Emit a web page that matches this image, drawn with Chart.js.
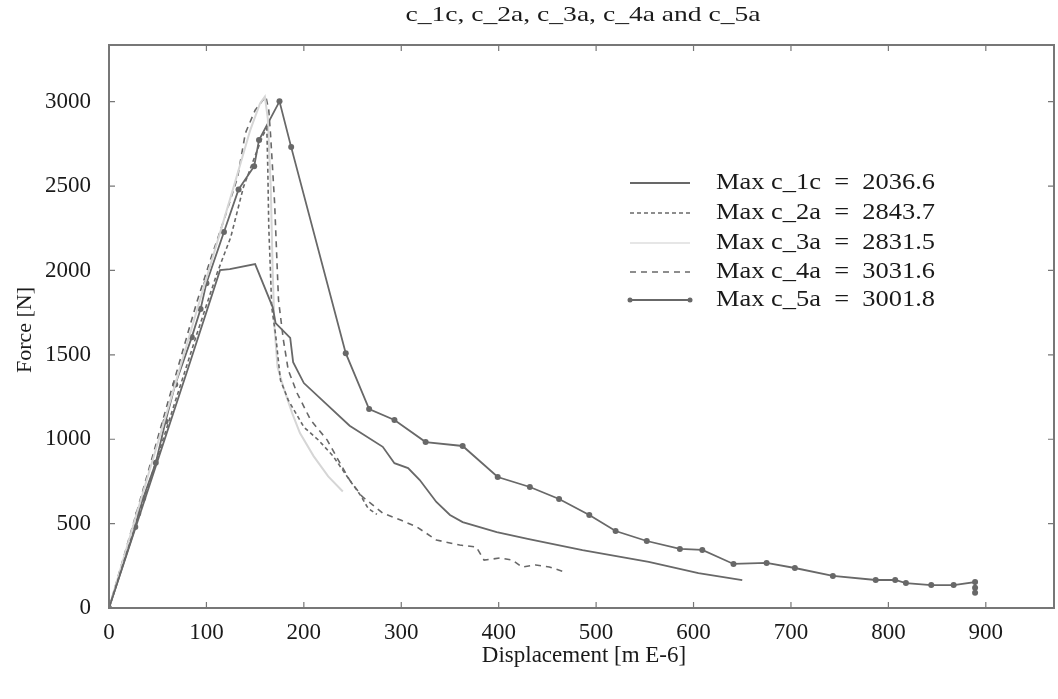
<!DOCTYPE html>
<html>
<head>
<meta charset="utf-8">
<script src="https://cdn.jsdelivr.net/npm/chart.js@4.4.1/dist/chart.umd.min.js"></script>
<style>
  html, body { margin: 0; padding: 0; background: #ffffff; }
  #wrap { width: 1058px; height: 699px; }
</style>
</head>
<body>
<div id="wrap"><canvas id="c" width="1058" height="699"></canvas></div>
<script>
// ---- data (displacement in m E-6, force in N) ----
const titleText = "c_1c, c_2a, c_3a, c_4a and c_5a";
const xTitle = "Displacement [m E-6]";
const yTitle = "Force [N]";
const seriesNames = ["c_1c", "c_2a", "c_3a", "c_4a", "c_5a"];
const maxValues = ["2036.6", "2843.7", "2831.5", "3031.6", "3001.8"];
const xTickValues = [0, 100, 200, 300, 400, 500, 600, 700, 800, 900];
const yTickValues = [0, 500, 1000, 1500, 2000, 2500, 3000];

const c1cX = [0, 40, 80, 114, 124, 150, 168, 171, 186, 189, 200, 247, 281, 293, 307, 319, 336, 350, 363, 398, 431, 486, 554, 605, 650];
const c1cY = [0, 700, 1400, 2002, 2008, 2038, 1783, 1688, 1600, 1457, 1333, 1080, 955, 858, 829, 758, 628, 551, 509, 450, 408, 343, 273, 207, 165];

const c2aX = [0, 30, 60, 90, 111, 125, 138, 150, 158, 162, 163, 164, 166, 167, 171, 176, 184, 200, 215, 230, 247, 258, 266, 275];
const c2aY = [0, 540, 1080, 1620, 1985, 2198, 2494, 2680, 2800, 2843, 2600, 2257, 1950, 1783, 1620, 1350, 1232, 1072, 995, 900, 758, 669, 590, 555];

const c3aX = [0, 30, 60, 90, 127, 145, 155, 160, 163, 166, 168, 170, 173, 179, 188, 196, 210, 225, 240];
const c3aY = [0, 590, 1170, 1760, 2476, 2832, 2990, 3030, 2900, 2500, 2000, 1650, 1428, 1309, 1155, 1037, 900, 780, 690];

const c4aX = [0, 30, 60, 90, 104, 118, 132, 140, 150, 161, 164, 166, 170, 174, 179, 184, 193, 207, 224, 236, 247, 260, 281, 300, 316, 336, 360, 377, 385, 401, 414, 424, 438, 452, 468];
const c4aY = [0, 600, 1210, 1810, 2062, 2299, 2553, 2814, 2950, 3031, 2950, 2790, 2400, 1825, 1588, 1410, 1274, 1114, 995, 870, 758, 660, 562, 520, 480, 403, 373, 361, 284, 296, 284, 243, 255, 243, 213];

const c5aX = [0, 27, 30, 35, 48, 58, 68, 85, 94, 100, 118, 133, 149, 154, 175, 187, 243, 267, 293, 325, 363, 399, 432, 462, 493, 520, 552, 586, 609, 641, 675, 704, 743, 787, 807, 818, 844, 867, 889, 889, 889];
const c5aY = [0, 480, 560, 650, 860, 1105, 1325, 1605, 1771, 1925, 2228, 2480, 2618, 2773, 3002, 2731, 1510, 1179, 1114, 983, 960, 776, 717, 646, 551, 456, 397, 350, 344, 261, 267, 237, 190, 166, 166, 148, 136, 136, 154, 120, 90];

// ---- styling ----
const lineGrey = "#686868";
const lightGrey = "#d6d6d6";
const textColor = "#1a1a1a";
const serif = "'Liberation Serif', 'DejaVu Serif', serif";

function pts(xs, ys) { return xs.map((x, i) => ({ x: x, y: ys[i] })); }

const datasets = [
  { label: "c_1c", data: pts(c1cX, c1cY), borderColor: lineGrey, borderWidth: 1.8, pointRadius: 0, borderDash: [] },
  { label: "c_2a", data: pts(c2aX, c2aY), borderColor: lineGrey, borderWidth: 1.6, pointRadius: 0, borderDash: [4, 3] },
  { label: "c_3a", data: pts(c3aX, c3aY), borderColor: lightGrey, borderWidth: 2, pointRadius: 0, borderDash: [] },
  { label: "c_4a", data: pts(c4aX, c4aY), borderColor: lineGrey, borderWidth: 1.6, pointRadius: 0, borderDash: [6, 5] },
  { label: "c_5a", data: pts(c5aX, c5aY), borderColor: lineGrey, backgroundColor: lineGrey, borderWidth: 1.8, pointRadius: 3, pointBorderWidth: 0, borderDash: [] }
];

const legendStyles = [
  { color: lineGrey, dash: [], marker: false, width: 1.8 },
  { color: lineGrey, dash: [4, 3], marker: false, width: 1.6 },
  { color: "#e6e6e6", dash: [], marker: false, width: 2 },
  { color: lineGrey, dash: [6, 5], marker: false, width: 1.6 },
  { color: lineGrey, dash: [], marker: true, width: 1.8 }
];

// draw text stretched horizontally to a target width
function wideText(ctx, txt, x, y, width, align) {
  const w = ctx.measureText(txt).width;
  const sx = width / w;
  ctx.save();
  ctx.translate(x, y);
  ctx.scale(sx, 1);
  ctx.textAlign = align;
  ctx.fillText(txt, 0, 0);
  ctx.restore();
}

const decor = {
  id: "decor",
  afterDraw(chart) {
    const ctx = chart.ctx;
    const a = chart.chartArea;
    const xs = chart.scales.x, ys = chart.scales.y;
    ctx.save();
    // frame
    ctx.strokeStyle = "#777777";
    ctx.lineWidth = 2;
    ctx.setLineDash([]);
    ctx.strokeRect(a.left, a.top, a.right - a.left, a.bottom - a.top);
    // inward ticks
    ctx.lineWidth = 1.2;
    const tl = 6;
    xTickValues.forEach(v => {
      const p = xs.getPixelForValue(v);
      ctx.beginPath();
      ctx.moveTo(p, a.bottom); ctx.lineTo(p, a.bottom - tl);
      ctx.moveTo(p, a.top); ctx.lineTo(p, a.top + tl);
      ctx.stroke();
    });
    yTickValues.forEach(v => {
      const p = ys.getPixelForValue(v);
      ctx.beginPath();
      ctx.moveTo(a.left, p); ctx.lineTo(a.left + tl, p);
      ctx.moveTo(a.right, p); ctx.lineTo(a.right - tl, p);
      ctx.stroke();
    });
    // titles
    ctx.fillStyle = textColor;
    ctx.textBaseline = "middle";
    ctx.font = "21px " + serif;
    wideText(ctx, titleText, 583, 15, 355, "center");
    ctx.font = "23px " + serif;
    ctx.textAlign = "center";
    ctx.fillText(xTitle, 584, 656);
    ctx.save();
    ctx.translate(25, 330);
    ctx.rotate(-Math.PI / 2);
    ctx.font = "22px " + serif;
    ctx.fillText(yTitle, 0, 0);
    ctx.restore();
    // legend
    const lx0 = 630, lx1 = 690, tx = 716;
    const ly = [183, 213, 243, 272, 300];
    ctx.font = "24px " + serif;
    seriesNames.forEach((n, i) => {
      const s = legendStyles[i];
      ctx.strokeStyle = s.color;
      ctx.lineWidth = s.width;
      ctx.setLineDash(s.dash);
      ctx.beginPath();
      ctx.moveTo(lx0, ly[i]); ctx.lineTo(lx1, ly[i]);
      ctx.stroke();
      ctx.setLineDash([]);
      if (s.marker) {
        ctx.fillStyle = s.color;
        [lx0, lx1].forEach(px => { ctx.beginPath(); ctx.arc(px, ly[i], 2.5, 0, Math.PI * 2); ctx.fill(); });
      }
      ctx.fillStyle = textColor;
      wideText(ctx, "Max " + n + "  =  " + maxValues[i], tx, ly[i], 219, "left");
    });
    ctx.restore();
  }
};

new Chart(document.getElementById("c"), {
  type: "scatter",
  data: { datasets: datasets.map(d => Object.assign({ showLine: true, fill: false, tension: 0 }, d)) },
  options: {
    responsive: false,
    animation: false,
    layout: { padding: { top: 45, right: 1, left: 0, bottom: 0 } },
    plugins: { legend: { display: false }, title: { display: false }, tooltip: { enabled: false } },
    scales: {
      x: {
        type: "linear", min: 0, max: 970,
        grid: { display: false }, border: { display: false },
        ticks: { color: textColor, font: { family: serif, size: 23 }, padding: 3, maxRotation: 0,
                 callback: v => String(v) },
        afterBuildTicks: s => { s.ticks = xTickValues.map(v => ({ value: v })); },
        afterFit: s => { s.height = 91; }
      },
      y: {
        type: "linear", min: 0, max: 3336,
        grid: { display: false }, border: { display: false },
        ticks: { color: textColor, font: { family: serif, size: 23 }, padding: 10,
                 callback: v => String(v) },
        afterBuildTicks: s => { s.ticks = yTickValues.map(v => ({ value: v })); },
        afterFit: s => { s.width = 109; }
      }
    }
  },
  plugins: [decor]
});
</script>
</body>
</html>
